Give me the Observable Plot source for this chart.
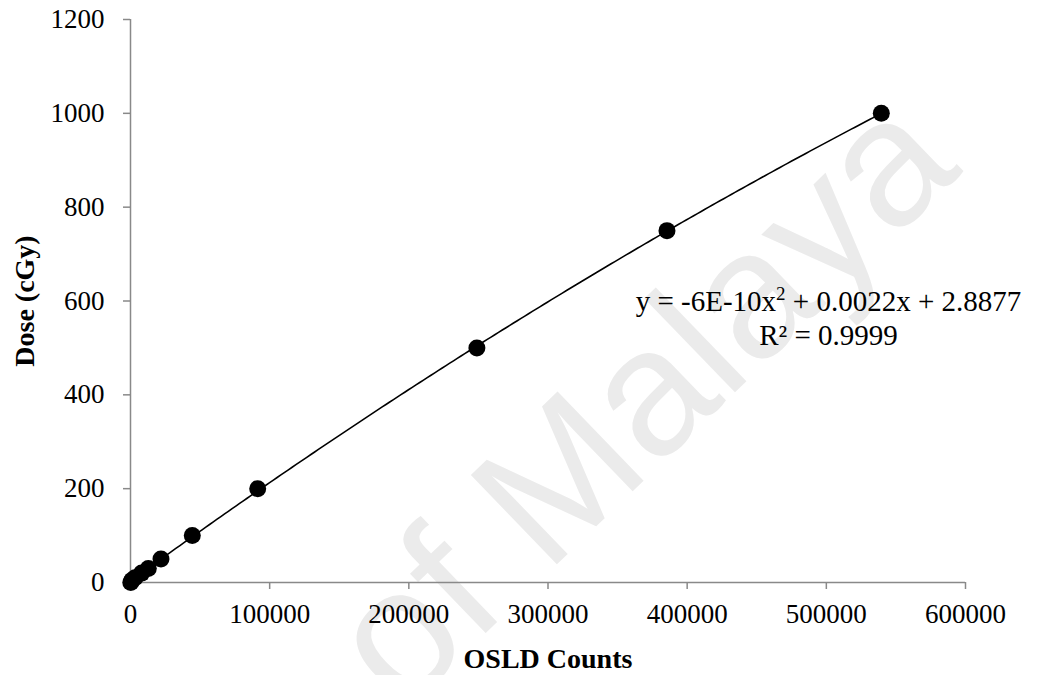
<!DOCTYPE html>
<html>
<head>
<meta charset="utf-8">
<script src="https://cdn.jsdelivr.net/npm/d3@7"></script>
<script src="https://cdn.jsdelivr.net/npm/@observablehq/plot@0.6"></script>
<style>
  body { margin: 0; background: #fff; }
</style>
</head>
<body>
<div id="chart"></div>
<script>
// OSLD calibration: reader counts against delivered dose
const counts = [200, 1000, 3300, 8000, 12800, 21900, 44400, 91400, 248900, 385500, 539500];
const doses  = [0, 5, 10, 20, 30, 50, 100, 200, 500, 750, 1000];

const xTicks = [0, 100000, 200000, 300000, 400000, 500000, 600000];
const yTicks = [0, 200, 400, 600, 800, 1000, 1200];

const xLabel = "OSLD Counts";
const yLabel = "Dose (cGy)";
const equationParts = ["y = -6E-10x", "2", " + 0.0022x + 2.8877"]; // base, exponent, rest
const equationText = equationParts.join("");
const r2Text = "R\u00B2 = 0.9999";
const watermark = "of Malaya";

const points = counts.map((c, i) => ({counts: c, dose: doses[i]}));

// Second-order least-squares trendline through the measured points
function quadFit(xs, ys) {
  const s = 1e5; // rescale counts for a well-conditioned system
  const u = xs.map(x => x / s);
  const S = k => d3.sum(u, v => v ** k);
  const T = k => d3.sum(u, (v, i) => v ** k * ys[i]);
  const A = [[S(4), S(3), S(2)], [S(3), S(2), S(1)], [S(2), S(1), u.length]];
  const b = [T(2), T(1), T(0)];
  // Gaussian elimination
  for (let i = 0; i < 3; i++) {
    for (let j = i + 1; j < 3; j++) {
      const f = A[j][i] / A[i][i];
      for (let k = i; k < 3; k++) A[j][k] -= f * A[i][k];
      b[j] -= f * b[i];
    }
  }
  const c = [0, 0, 0];
  for (let i = 2; i >= 0; i--) {
    let v = b[i];
    for (let k = i + 1; k < 3; k++) v -= A[i][k] * c[k];
    c[i] = v / A[i][i];
  }
  return x => c[0] * (x / s) ** 2 + c[1] * (x / s) + c[2];
}

const fit = quadFit(counts, doses);
const [xMin, xMax] = d3.extent(counts);
const trend = d3.range(0, 201).map(i => {
  const x = xMin + (xMax - xMin) * i / 200;
  return {counts: x, dose: fit(x)};
});

const axisGray = "#898989";
const serif = "Liberation Serif";

const chart = Plot.plot({
  width: 1040,
  height: 675,
  marginLeft: 130,
  marginRight: 75,
  marginTop: 19,
  marginBottom: 93,
  style: {fontFamily: serif, fontSize: "27px", background: "#fff", color: "#000"},
  x: {domain: [0, 600000]},
  y: {domain: [0, 1200]},
  marks: [
    // faint diagonal watermark behind the data
    Plot.text([watermark], {
      frameAnchor: "middle", dx: 95, dy: 100, rotate: -44,
      fontSize: 180, fontFamily: "Liberation Sans", fill: "#ebebeb"
    }),
    Plot.axisX({
      ticks: xTicks, tickSize: 7, tickPadding: 14, stroke: axisGray, strokeWidth: 1.5,
      fill: "#000", tickFormat: d => String(d), label: null
    }),
    Plot.axisY({
      ticks: yTicks, tickSize: 7, tickPadding: 19, stroke: axisGray, strokeWidth: 1.5,
      fill: "#000", tickFormat: d => String(d), label: null
    }),
    Plot.ruleY([0], {stroke: axisGray, strokeWidth: 1.5}),
    Plot.ruleX([0], {stroke: axisGray, strokeWidth: 1.5}),
    Plot.line(trend, {x: "counts", y: "dose", stroke: "#000", strokeWidth: 1.6}),
    Plot.dot(points, {x: "counts", y: "dose", r: 8.5, fill: "#000", stroke: "none"}),
    Plot.text([xLabel], {
      frameAnchor: "bottom", dy: 85, lineAnchor: "bottom",
      fontWeight: "bold", fontSize: 28, fill: "#000"
    }),
    Plot.text([yLabel], {
      frameAnchor: "left", dx: -105, rotate: -90, lineAnchor: "middle", textAnchor: "middle",
      fontWeight: "bold", fontSize: 28, fill: "#000"
    }),
    Plot.text([equationText], {
      frameAnchor: "top-left", dx: 698, dy: 291, lineAnchor: "bottom",
      textAnchor: "middle", fontSize: 29, fill: "#000", className: "trend-eq"
    }),
    Plot.text([r2Text], {
      frameAnchor: "top-left", dx: 698, dy: 325, lineAnchor: "bottom",
      textAnchor: "middle", fontSize: 29, fill: "#000"
    })
  ]
});

// Typeset the exponent of the trendline equation as a raised superscript
d3.select(chart).selectAll(".trend-eq text").each(function () {
  const t = d3.select(this).text("");
  t.append("tspan").text(equationParts[0]);
  t.append("tspan").attr("dy", "-11").attr("font-size", "19").text(equationParts[1]);
  t.append("tspan").attr("dy", "11").text(equationParts[2]);
});

document.getElementById("chart").appendChild(chart);
</script>
</body>
</html>
